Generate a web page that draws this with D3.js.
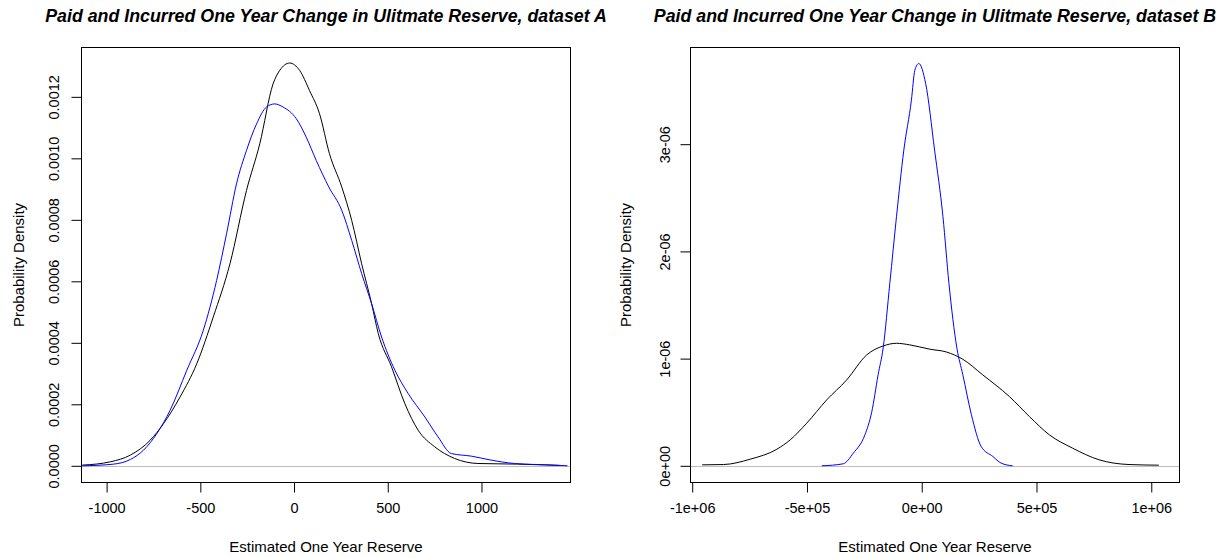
<!DOCTYPE html>
<html>
<head>
<meta charset="utf-8">
<script src="https://cdn.jsdelivr.net/npm/d3@7"></script>
<style>
  html, body { margin: 0; padding: 0; background: #fff; }
  svg { display: block; }
  text { font-family: "Liberation Sans", Arial, sans-serif; fill: #000; }
</style>
</head>
<body>
<svg id="chart" width="1231" height="558"></svg>
<script>
// ---- Dataset A: kernel density of one-year reserve change ----
const aPaidX = [-1130, -980, -873.5, -767, -696.6, -608, -519, -431, -342, -253.5, -183, -112, -76.5, -23.4, 29.8, 83, 136, 189, 254.5, 307.7, 360.8, 414, 449.5, 520, 591.4, 662, 750.8, 857, 981, 1193, 1420];
const aPaidY = [0.0000023, 0.000013, 0.0000348, 0.0000835, 0.000137, 0.000224, 0.000332, 0.000484, 0.000657, 0.000896, 0.001047, 0.001242, 0.001286, 0.00131, 0.001286, 0.00122, 0.001145, 0.001015, 0.000907, 0.000798, 0.000657, 0.000527, 0.00043, 0.000322, 0.000202, 0.000116, 0.0000617, 0.0000238, 0.0000075, 0.0000055, 0.000001];

const aIncX = [-1130, -962, -873.5, -803, -731.7, -661, -572, -484, -413, -360, -307, -253.5, -200, -147, -103, -59, 12, 65, 118.5, 185.4, 254.5, 307.7, 360.8, 414, 467, 538, 609, 697.6, 768.3, 839, 945, 1051.5, 1175.8, 1388, 1459];
const aIncY = [0, 0.0000055, 0.0000205, 0.000051, 0.000105, 0.000181, 0.000311, 0.000441, 0.000603, 0.000755, 0.000917, 0.001026, 0.001112, 0.001167, 0.001177, 0.001167, 0.001129, 0.001069, 0.000993, 0.000907, 0.000831, 0.000733, 0.000625, 0.000527, 0.000419, 0.000311, 0.000235, 0.000159, 0.0000942, 0.00004, 0.0000315, 0.0000185, 0.0000075, 0.0000023, 0];

// ---- Dataset B ----
const bPaidX = [-0.9566e6, -0.863e6, -0.747e6, -0.631e6, -0.573e6, -0.501e6, -0.414e6, -0.327e6, -0.240e6, -0.168e6, -0.110e6, -0.052e6, 0.035e6, 0.107e6, 0.179e6, 0.266e6, 0.382e6, 0.469e6, 0.556e6, 0.657e6, 0.773e6, 0.903e6, 1.033e6];
const bPaidY = [0.009e-6, 0.012e-6, 0.062e-6, 0.155e-6, 0.242e-6, 0.398e-6, 0.615e-6, 0.801e-6, 1.034e-6, 1.118e-6, 1.143e-6, 1.128e-6, 1.088e-6, 1.062e-6, 0.994e-6, 0.848e-6, 0.646e-6, 0.46e-6, 0.289e-6, 0.165e-6, 0.056e-6, 0.012e-6, 0.006e-6];

const bIncX = [-0.4355e6, -0.342e6, -0.298e6, -0.2475e6, -0.218e6, -0.19e6, -0.168e6, -0.139e6, -0.110e6, -0.078e6, -0.045e6, -0.030e6, -0.013e6, 0.017e6, 0.056e6, 0.0925e6, 0.1185e6, 0.153e6, 0.179e6, 0.216e6, 0.259e6, 0.31e6, 0.346e6, 0.396e6];
const bIncY = [0, 0.019e-6, 0.118e-6, 0.289e-6, 0.50e-6, 0.85e-6, 1.10e-6, 1.703e-6, 2.323e-6, 2.945e-6, 3.411e-6, 3.69e-6, 3.753e-6, 3.567e-6, 2.945e-6, 2.323e-6, 1.703e-6, 1.10e-6, 0.85e-6, 0.48e-6, 0.18e-6, 0.087e-6, 0.025e-6, 0];

// ---- Axis ticks and labels ----
const aXTicks = [-1000, -500, 0, 500, 1000];
const aXLabels = ["-1000", "-500", "0", "500", "1000"];
const aYTicks = [0, 0.0002, 0.0004, 0.0006, 0.0008, 0.0010, 0.0012];
const aYLabels = ["0.0000", "0.0002", "0.0004", "0.0006", "0.0008", "0.0010", "0.0012"];
const bXTicks = [-1e6, -5e5, 0, 5e5, 1e6];
const bXLabels = ["-1e+06", "-5e+05", "0e+00", "5e+05", "1e+06"];
const bYTicks = [0, 1e-6, 2e-6, 3e-6];
const bYLabels = ["0e+00", "1e-06", "2e-06", "3e-06"];

const titles = [
  "Paid and Incurred One Year Change in Ulitmate Reserve, dataset A",
  "Paid and Incurred One Year Change in Ulitmate Reserve, dataset B"
];
const xTitle = "Estimated One Year Reserve";
const yTitle = "Probability Density";

const svg = d3.select("#chart");

const panels = [
  {
    id: "A", title: titles[0],
    box: { left: 81.5, right: 570.5, top: 47.5, bottom: 482.5 },
    xDomain: [-1134, 1475], yDomain: [-0.0000543, 0.0013605],
    xTicks: aXTicks, xLabels: aXLabels, yTicks: aYTicks, yLabels: aYLabels,
    series: [
      { x: aPaidX, y: aPaidY, color: "#000000" },
      { x: aIncX, y: aIncY, color: "#0000ff" }
    ],
    yTickLabelX: 59, yTitleX: 24
  },
  {
    id: "B", title: titles[1],
    box: { left: 690.5, right: 1179.5, top: 47.5, bottom: 482.5 },
    xDomain: [-1.0074e6, 1.123e6], yDomain: [-0.1556e-6, 3.902e-6],
    xTicks: bXTicks, xLabels: bXLabels, yTicks: bYTicks, yLabels: bYLabels,
    series: [
      { x: bPaidX, y: bPaidY, color: "#000000" },
      { x: bIncX, y: bIncY, color: "#0000ff" }
    ],
    yTickLabelX: 670, yTitleX: 631
  }
];

panels.forEach(p => {
  const b = p.box;
  const x = d3.scaleLinear().domain(p.xDomain).range([b.left, b.right]);
  const y = d3.scaleLinear().domain(p.yDomain).range([b.bottom, b.top]);
  const g = svg.append("g");

  // clip curves to the plotting region
  const clipId = "clip" + p.id;
  svg.append("defs").append("clipPath").attr("id", clipId)
    .append("rect").attr("x", b.left).attr("y", b.top)
    .attr("width", b.right - b.left).attr("height", b.bottom - b.top);

  // zero reference line
  g.append("line")
    .attr("x1", b.left).attr("x2", b.right)
    .attr("y1", Math.round(y(0)) + 0.5).attr("y2", Math.round(y(0)) + 0.5)
    .attr("stroke", "#bebebe").attr("stroke-width", 1);

  // density curves
  const line = d3.line().curve(d3.curveMonotoneX);
  const curves = g.append("g").attr("clip-path", `url(#${clipId})`);
  p.series.forEach(s => {
    const pts = s.x.map((v, i) => [x(v), y(s.y[i])]);
    curves.append("path")
      .attr("d", line(pts))
      .attr("fill", "none")
      .attr("stroke", s.color)
      .attr("stroke-width", 1);
  });

  // frame
  g.append("rect")
    .attr("x", b.left).attr("y", b.top)
    .attr("width", b.right - b.left).attr("height", b.bottom - b.top)
    .attr("fill", "none").attr("stroke", "#000").attr("stroke-width", 1);

  // x axis
  const xAxis = d3.axisBottom(x)
    .tickValues(p.xTicks)
    .tickFormat((d, i) => p.xLabels[i])
    .tickSize(10).tickPadding(10).tickSizeOuter(0);
  const xg = g.append("g").attr("transform", `translate(0,${b.bottom})`).call(xAxis);
  xg.select(".domain").remove();
  xg.selectAll(".tick line").attr("stroke", "#000");
  xg.selectAll(".tick text")
    .style("font-family", '"Liberation Sans", Arial, sans-serif')
    .style("font-size", "14.5px").attr("fill", "#000");

  // y axis
  const yAxis = d3.axisLeft(y)
    .tickValues(p.yTicks)
    .tickFormat((d, i) => p.yLabels[i])
    .tickSize(10).tickSizeOuter(0);
  const yg = g.append("g").attr("transform", `translate(${b.left},0)`).call(yAxis);
  yg.select(".domain").remove();
  yg.selectAll(".tick line").attr("stroke", "#000");
  yg.selectAll(".tick text")
    .attr("x", null).attr("dy", null)
    .attr("transform", `translate(${p.yTickLabelX - b.left},0) rotate(-90)`)
    .attr("text-anchor", "middle")
    .style("font-family", '"Liberation Sans", Arial, sans-serif')
    .style("font-size", "14.5px").attr("fill", "#000");

  const cx = (b.left + b.right) / 2;
  const cy = (b.top + b.bottom) / 2;

  // axis titles
  g.append("text")
    .attr("x", cx).attr("y", 552)
    .attr("text-anchor", "middle")
    .style("font-size", "15px")
    .text(xTitle);

  g.append("text")
    .attr("transform", `translate(${p.yTitleX},${cy}) rotate(-90)`)
    .attr("text-anchor", "middle")
    .style("font-size", "15px")
    .text(yTitle);

  // main title
  g.append("text")
    .attr("x", cx).attr("y", 22)
    .attr("text-anchor", "middle")
    .style("font-size", "17.8px")
    .style("font-weight", "bold")
    .style("font-style", "italic")
    .text(p.title);
});
</script>
</body>
</html>
